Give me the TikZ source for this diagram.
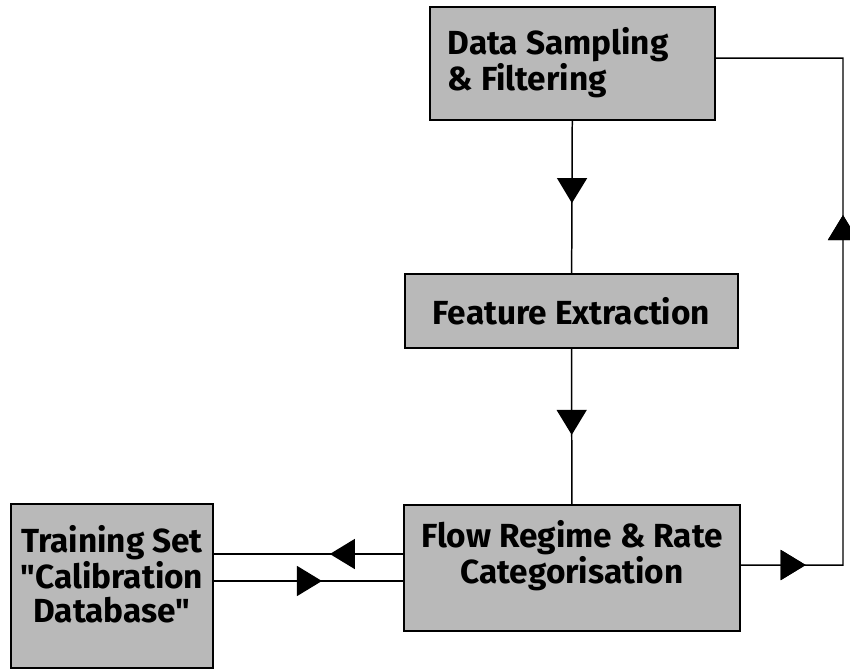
\documentclass[tikz,border=0pt]{standalone}
\usepackage{fontspec}
\setsansfont{Fira Sans}
\usetikzlibrary{arrows.meta, decorations.markings, positioning}

\tikzset{
  block/.style={rectangle, draw, line width=1.1pt, fill=gray!55},
  blocktext/.style={font=\sffamily\bfseries\fontsize{19}{19}\selectfont, align=center, inner sep=0pt},
  midarrow/.style={decoration={markings, mark=at position #1 with {\arrow{Triangle[length=0.5cm, width=0.6cm]}}}, postaction={decorate}},
}

\begin{document}
\begin{tikzpicture}[x=0.02cm, y=-0.02cm, line width=0.85pt]
        \useasboundingbox (0,0) rectangle (850,670);
        % boxes
        \node[block, minimum width=5.7cm, minimum height=2.26cm] (Sampling) at (572.5,63.5) {};
        \node[blocktext, align=left, anchor=west] (SamplingText) at (447,63) {Data Sampling\\ \& Filtering};
        \node[block, blocktext, minimum width=6.66cm, minimum height=1.48cm] (Feature) at (571.5,311) {Feature Extraction};
        \node[block, minimum width=6.72cm, minimum height=2.52cm] (Flow) at (572,568) {};
        \node[blocktext] (FlowText) at (572,556) {Flow Regime \& Rate\\ Categorisation};
        \node[block, minimum width=4.04cm, minimum height=3.28cm] (Training) at (112,586) {};
        \node[blocktext] (TrainingText) at (112,574) {Training Set\\ \textquotedbl Calibration\\ Database\textquotedbl};
        % helper points
        \coordinate (FlowTop) at ([yshift=0.28cm] Flow.west);
        \coordinate (FlowBot) at ([yshift=-0.26cm] Flow.west);
        \coordinate (LoopBot) at (843,565);
        \coordinate (LoopTop) at (843,58);
        % connectors
        \draw[midarrow=0.54] (Sampling) -- (Feature);
        \draw[midarrow=0.554] (Feature) -- (Flow);
        \draw[midarrow=0.387] (FlowTop) -- (FlowTop -| Training.east);
        \draw[midarrow=0.571] (FlowBot -| Training.east) -- (FlowBot);
        \draw[midarrow=0.088, midarrow=0.614] ([yshift=0.06cm] Flow.east) -- (LoopBot) -- (LoopTop) -- ([yshift=0.11cm] Sampling.east);
    \end{tikzpicture}
\end{document}
